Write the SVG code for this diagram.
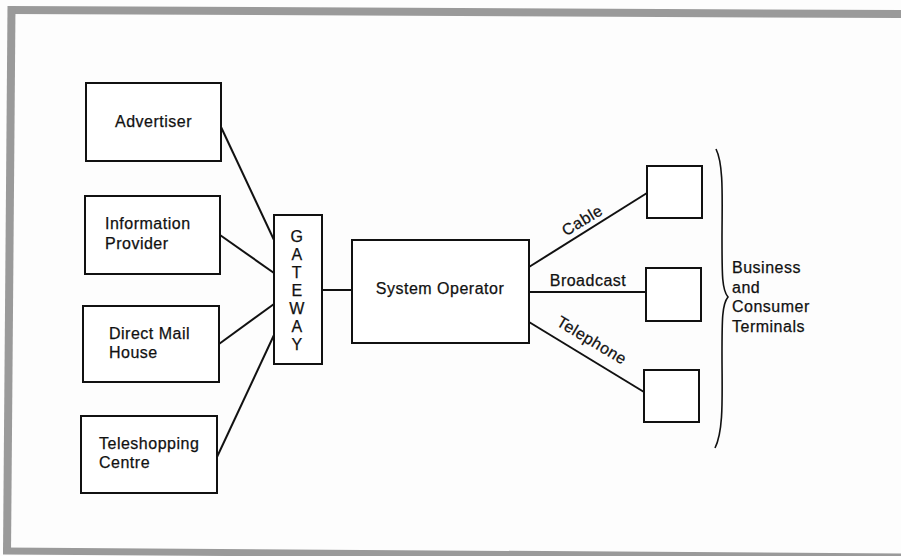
<svg xmlns="http://www.w3.org/2000/svg" width="901" height="556" viewBox="0 0 901 556">
<style>
.box{fill:#fff;stroke:#111;stroke-width:2}
.ln{fill:none;stroke:#111;stroke-width:2}
.t{font-family:"Liberation Sans",Arial,sans-serif;font-size:16px;fill:#111;letter-spacing:0.5px;stroke:#111;stroke-width:0.25px}
.frame{stroke:#9a9a9a;fill:none}
</style>
<rect x="0" y="0" width="901" height="556" fill="#fdfdfd"/>
<g id="frame">
<line class="frame" x1="8" y1="10" x2="901" y2="14" stroke-width="8"/>
<line class="frame" x1="11.5" y1="6" x2="7" y2="554" stroke-width="8"/>
<line class="frame" x1="3" y1="551" x2="901" y2="557" stroke-width="7"/>
</g>
<g id="connectors">
<line class="ln" x1="221" y1="127" x2="274" y2="240"/>
<line class="ln" x1="220" y1="235" x2="274" y2="273"/>
<line class="ln" x1="219" y1="344" x2="274" y2="304"/>
<line class="ln" x1="217" y1="457" x2="274" y2="335"/>
<line class="ln" x1="322" y1="290" x2="352" y2="290"/>
<line class="ln" x1="529" y1="267" x2="647" y2="193"/>
<line class="ln" x1="529" y1="292" x2="646" y2="292"/>
<line class="ln" x1="529" y1="322" x2="644" y2="392"/>
<text class="t" transform="translate(585,225) rotate(-31)" text-anchor="middle">Cable</text>
<text class="t" x="588" y="286" text-anchor="middle">Broadcast</text>
<text class="t" transform="translate(589,345) rotate(31)" text-anchor="middle">Telephone</text>
</g>
<g id="advertiser">
<rect class="box" x="86" y="83" width="135" height="78"/>
<text class="t" x="115" y="127">Advertiser</text>
</g>
<g id="information-provider">
<rect class="box" x="85" y="196" width="135" height="78"/>
<text class="t" x="105" y="229">Information</text>
<text class="t" x="105" y="249">Provider</text>
</g>
<g id="direct-mail-house">
<rect class="box" x="83" y="306" width="136" height="76"/>
<text class="t" x="109" y="339">Direct Mail</text>
<text class="t" x="109" y="358">House</text>
</g>
<g id="teleshopping-centre">
<rect class="box" x="81" y="416" width="136" height="77"/>
<text class="t" x="99" y="449">Teleshopping</text>
<text class="t" x="99" y="468">Centre</text>
</g>
<g id="gateway">
<rect class="box" x="274" y="215" width="48" height="149"/>
<g class="t" text-anchor="middle">
<text x="297" y="242">G</text>
<text x="297" y="260">A</text>
<text x="297" y="278">T</text>
<text x="297" y="296">E</text>
<text x="297" y="314">W</text>
<text x="297" y="332">A</text>
<text x="297" y="350">Y</text>
</g>
</g>
<g id="system-operator">
<rect class="box" x="352" y="240" width="177" height="103"/>
<text class="t" x="440" y="294" text-anchor="middle">System Operator</text>
</g>
<g id="terminal-1">
<rect class="box" x="647" y="166" width="55" height="52"/>
</g>
<g id="terminal-2">
<rect class="box" x="646" y="268" width="55" height="53"/>
</g>
<g id="terminal-3">
<rect class="box" x="644" y="370" width="55" height="52"/>
</g>
<g id="terminals-label">
<path d="M716 149 C724 165,722 200,722 240 C722 275,722 290,728 297 C722 304,722 320,722 355 C722 395,724 430,715 448" fill="none" stroke="#111" stroke-width="1.6"/>
<text class="t" x="732" y="273">Business</text>
<text class="t" x="732" y="293">and</text>
<text class="t" x="732" y="312">Consumer</text>
<text class="t" x="732" y="332">Terminals</text>
</g>
</svg>
